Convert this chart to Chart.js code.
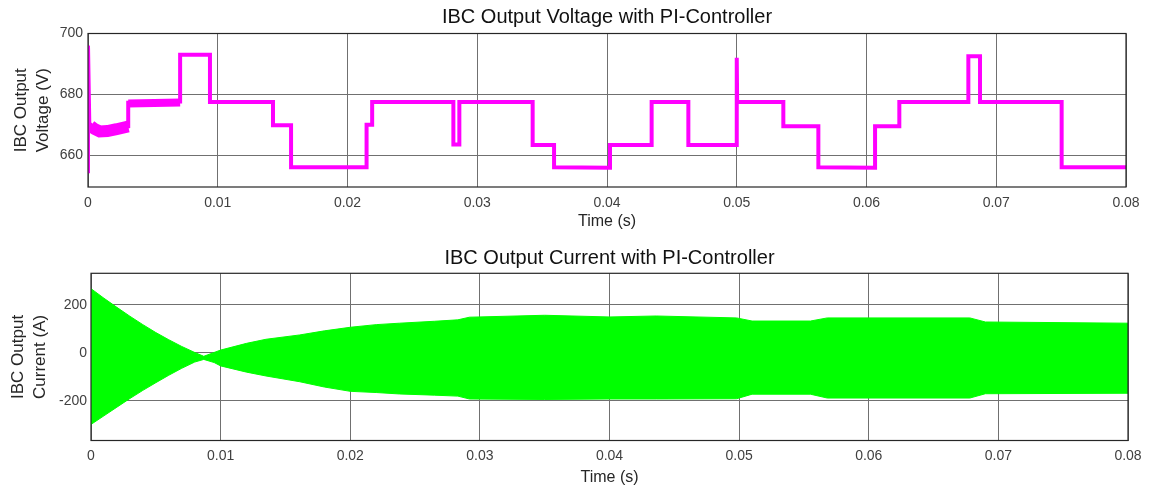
<!DOCTYPE html>
<html>
<head>
<meta charset="utf-8">
<script src="https://cdn.jsdelivr.net/npm/chart.js@4.4.0/dist/chart.umd.min.js"></script>
<style>
  body { margin: 0; background: #fff; }
  canvas { position: absolute; left: 0; }
</style>
</head>
<body>
<canvas id="vChart" width="1153" height="240" style="top:0"></canvas>
<canvas id="iChart" width="1153" height="251" style="top:240px"></canvas>
<script>
// shared time axis
var xTicks = [0, 0.01, 0.02, 0.03, 0.04, 0.05, 0.06, 0.07, 0.08];
var xTickLabels = ["0", "0.01", "0.02", "0.03", "0.04", "0.05", "0.06", "0.07", "0.08"];
var vTicks = [660, 680, 700];
var iTicks = [-200, 0, 200];

// output voltage (V), step changes
var vTime = [0, 0, 0.0001, 0.0005, 0.0009, 0.0015, 0.0022, 0.0031, 0.0031, 0.0071, 0.0071, 0.0094, 0.0094,
  0.01426, 0.01426, 0.01565, 0.01565, 0.02147, 0.02147, 0.0219, 0.0219, 0.02816, 0.02816,
  0.02862, 0.02862, 0.03427, 0.03427, 0.03592, 0.03592, 0.04023, 0.04023, 0.04344, 0.04344,
  0.04627, 0.04627, 0.05, 0.05, 0.05003, 0.05359, 0.05359, 0.05629, 0.05629, 0.06066,
  0.06066, 0.06253, 0.06253, 0.06785, 0.06785, 0.06875, 0.06875, 0.07504, 0.07504, 0.08];
var vVolt = [654, 696, 670.5, 668.6, 667.8, 667.9, 668.5, 669.4, 677.2, 677.6, 693, 693, 677.5,
  677.5, 669.8, 669.8, 656, 656, 670, 670, 677.5, 677.5, 663.5,
  663.5, 677.5, 677.5, 663.3, 663.3, 656, 655.8, 663.3, 663.3, 677.5,
  677.5, 663.3, 663.3, 692, 677.5, 677.5, 669.5, 669.5, 656, 655.8,
  669.5, 669.5, 677.5, 677.5, 692.5, 692.5, 677.5, 677.5, 656, 656];
// ripple band at start-up
var rippleTime = [0.0002, 0.0005, 0.0009, 0.0015, 0.0022, 0.0031];
var rippleVolt = [669.6, 668.6, 667.8, 667.9, 668.5, 669.4];
var plateauTime = [0.0031, 0.0071];
var plateauVolt = [677, 677.3];

// output current (A), envelope of the fast oscillation
var iTime = [0, 0.001, 0.002, 0.003, 0.004, 0.005, 0.006, 0.007, 0.008, 0.0087, 0.0095,
  0.01, 0.012, 0.0135, 0.0161, 0.018, 0.02, 0.022, 0.0238, 0.0265, 0.0283, 0.0292, 0.035,
  0.04, 0.0436, 0.0498, 0.051, 0.0555, 0.0568, 0.0678, 0.069, 0.08];
var iUpper = [268, 228, 190, 153, 118, 85, 55, 27, 2, -14, 2,
  12, 40, 57, 75, 92, 107, 118, 124, 132, 138, 149, 157,
  150, 154, 146, 133, 133, 146, 146, 129, 124];
var iLower = [-298, -262, -226, -190, -156, -124, -93, -64, -38, -27, -40,
  -54, -80, -96, -120, -142, -160, -165, -171, -176, -180, -192, -194,
  -192, -192, -191, -172, -172, -188, -188, -170, -168];

function pts(xs, ys) {
  return xs.map(function (x, k) { return { x: x, y: ys[k] }; });
}

var font = "'Liberation Sans', Arial, Helvetica, sans-serif";
var gridColor = "#707070";

// box round the plot area, like the matlab axes
var frame = {
  id: "frame",
  afterDatasetsDraw: function (chart) {
    var a = chart.chartArea, c = chart.ctx;
    c.save();
    c.strokeStyle = "#262626";
    c.lineWidth = 1.2;
    c.strokeRect(a.left, a.top, a.right - a.left, a.bottom - a.top);
    c.restore();
  }
};

function opts(p) {
  return {
    responsive: false,
    animation: false,
    layout: { padding: { left: 0, right: p.right, top: 0, bottom: 0 } },
    elements: { point: { radius: 0 }, line: { tension: 0 } },
    plugins: {
      legend: { display: false },
      tooltip: { enabled: false },
      title: {
        display: true,
        fullSize: false,
        text: p.title,
        color: "#111",
        font: { family: font, size: 20, weight: "normal" },
        padding: { top: p.titleTop, bottom: p.titleBottom }
      }
    },
    scales: {
      x: {
        type: "linear",
        min: 0,
        max: 0.08,
        afterBuildTicks: function (s) { s.ticks = xTicks.map(function (v) { return { value: v }; }); },
        afterFit: function (s) { s.height = p.xHeight; },
        border: { display: false },
        grid: { color: gridColor, drawTicks: false },
        ticks: {
          autoSkip: false,
          maxRotation: 0,
          padding: p.xTickPad,
          color: "#404040",
          font: { family: font, size: 14 },
          callback: function (v, k) { return xTickLabels[k]; }
        },
        title: {
          display: true,
          text: "Time (s)",
          color: "#262626",
          font: { family: font, size: 16 },
          padding: { top: 0, bottom: p.xTitlePad }
        }
      },
      y: {
        min: p.yMin,
        max: p.yMax,
        afterBuildTicks: function (s) { s.ticks = p.yTicks.map(function (v) { return { value: v }; }); },
        afterFit: function (s) { s.width = p.yWidth; },
        border: { display: false },
        grid: { color: gridColor, drawTicks: false },
        ticks: {
          padding: p.yTickPad,
          color: "#404040",
          font: { family: font, size: 14 }
        },
        title: {
          display: true,
          text: p.yTitle,
          color: "#262626",
          font: { family: font, size: 17, lineHeight: 1.3 },
          padding: { top: p.yTitlePad, bottom: 0 }
        }
      }
    }
  };
}

new Chart("vChart", {
  type: "line",
  data: {
    datasets: [
      { data: pts(vTime, vVolt), borderColor: "#ff00ff", borderWidth: 4, fill: false },
      { data: pts(rippleTime, rippleVolt), borderColor: "#ff00ff", borderWidth: 12, fill: false },
      { data: pts(plateauTime, plateauVolt), borderColor: "#ff00ff", borderWidth: 8, fill: false }
    ]
  },
  options: opts({
    title: "IBC Output Voltage with PI-Controller",
    yTitle: ["IBC Output", "Voltage (V)"],
    yMin: 649.5, yMax: 700, yTicks: vTicks,
    right: 27, titleTop: 5, titleBottom: 4.5,
    yWidth: 88, xHeight: 53, xTickPad: 7.5, xTitlePad: 8.7, yTickPad: 5, yTitlePad: 10
  }),
  plugins: [frame]
});

new Chart("iChart", {
  type: "line",
  data: {
    datasets: [
      { data: pts(iTime, iUpper), borderColor: "#00ff00", backgroundColor: "#00ff00", borderWidth: 1, fill: "+1" },
      { data: pts(iTime, iLower), borderColor: "#00ff00", borderWidth: 1, fill: false }
    ]
  },
  options: opts({
    title: "IBC Output Current with PI-Controller",
    yTitle: ["IBC Output", "Current (A)"],
    yMin: -365, yMax: 332, yTicks: iTicks,
    right: 25, titleTop: 6.3, titleBottom: 3,
    yWidth: 91, xHeight: 50.5, xTickPad: 7, xTitlePad: 3.9, yTickPad: 4, yTitlePad: 7
  }),
  plugins: [frame]
});
</script>
</body>
</html>
